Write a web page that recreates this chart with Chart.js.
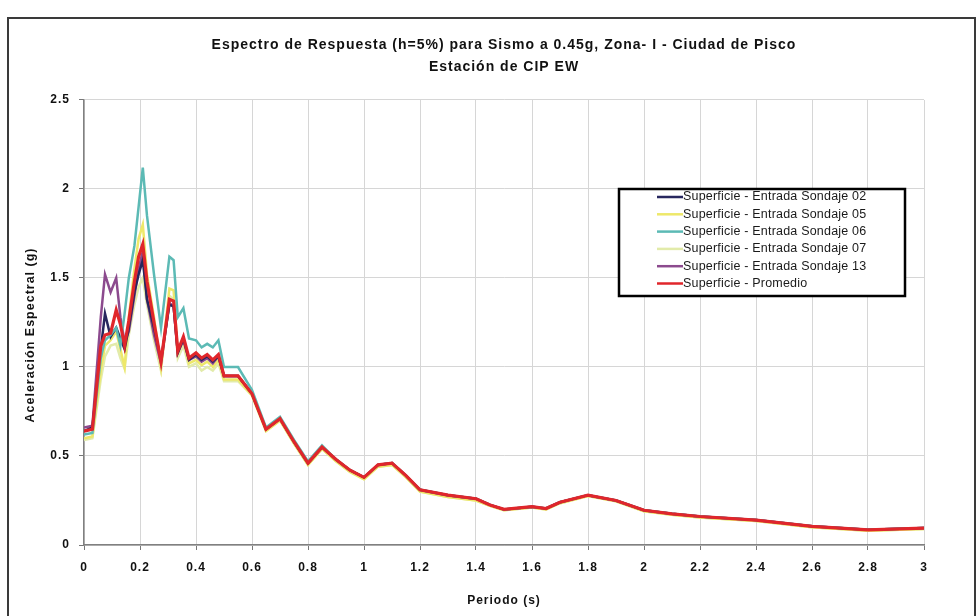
<!DOCTYPE html>
<html>
<head>
<meta charset="utf-8">
<script src="https://cdn.jsdelivr.net/npm/chart.js@4.4.1/dist/chart.umd.min.js"></script>
<style>
  html, body { margin: 0; padding: 0; background: #ffffff; }
  #wrap { position: relative; width: 979px; height: 616px; }
</style>
</head>
<body>
<div id="wrap"><canvas id="c" width="979" height="616"></canvas></div>
<script>
// Periodos (s)
const periods = [0, 0.03, 0.06, 0.075, 0.095, 0.115, 0.13, 0.145, 0.16, 0.18, 0.195, 0.21, 0.225, 0.25, 0.275, 0.305, 0.32, 0.335, 0.355, 0.375, 0.40, 0.42, 0.44, 0.46, 0.48, 0.50, 0.55,
  0.60, 0.65, 0.70, 0.75, 0.80, 0.85, 0.90, 0.95, 1.00, 1.05, 1.10, 1.15, 1.20, 1.30, 1.40, 1.45, 1.50, 1.60, 1.65, 1.70, 1.80, 1.90, 2.00, 2.10, 2.20, 2.40, 2.60, 2.80, 3.00];

// Aceleración espectral (g) por sondaje
const sondaje02 = [0.64, 0.66, 1.10, 1.30, 1.17, 1.22, 1.16, 1.10, 1.22, 1.42, 1.52, 1.60, 1.38, 1.22, 1.04, 1.35, 1.34, 1.08, 1.16, 1.04, 1.07, 1.04, 1.06, 1.03, 1.06, 0.95, 0.95,
  0.85, 0.65, 0.71, 0.58, 0.46, 0.55, 0.48, 0.42, 0.38, 0.45, 0.46, 0.39, 0.31, 0.28, 0.26, 0.225, 0.20, 0.215, 0.205, 0.24, 0.28, 0.25, 0.195, 0.175, 0.16, 0.14, 0.105, 0.085, 0.095];
const sondaje05 = [0.60, 0.61, 0.98, 1.12, 1.15, 1.20, 1.10, 1.00, 1.28, 1.55, 1.72, 1.80, 1.52, 1.28, 1.00, 1.44, 1.43, 1.08, 1.15, 1.02, 1.04, 1.01, 1.03, 1.00, 1.04, 0.93, 0.93,
  0.84, 0.64, 0.70, 0.57, 0.45, 0.54, 0.47, 0.41, 0.37, 0.44, 0.45, 0.38, 0.30, 0.27, 0.25, 0.22, 0.195, 0.21, 0.20, 0.235, 0.275, 0.245, 0.19, 0.17, 0.155, 0.135, 0.10, 0.08, 0.09];
const sondaje06 = [0.62, 0.63, 1.05, 1.15, 1.18, 1.22, 1.12, 1.30, 1.50, 1.68, 1.90, 2.12, 1.85, 1.52, 1.22, 1.62, 1.60, 1.28, 1.33, 1.16, 1.15, 1.11, 1.13, 1.11, 1.15, 1.00, 1.00,
  0.87, 0.66, 0.72, 0.59, 0.47, 0.56, 0.48, 0.42, 0.38, 0.45, 0.46, 0.39, 0.31, 0.28, 0.26, 0.225, 0.20, 0.215, 0.205, 0.24, 0.28, 0.25, 0.195, 0.175, 0.16, 0.14, 0.105, 0.085, 0.095];
const sondaje07 = [0.59, 0.60, 0.93, 1.06, 1.12, 1.13, 1.05, 0.99, 1.18, 1.35, 1.45, 1.50, 1.35, 1.15, 0.98, 1.40, 1.38, 1.05, 1.12, 1.00, 1.02, 0.98, 1.00, 0.98, 1.02, 0.92, 0.92,
  0.84, 0.64, 0.70, 0.57, 0.45, 0.54, 0.47, 0.41, 0.37, 0.44, 0.45, 0.38, 0.30, 0.27, 0.25, 0.22, 0.195, 0.21, 0.20, 0.235, 0.275, 0.245, 0.19, 0.17, 0.155, 0.135, 0.10, 0.08, 0.09];
const sondaje13 = [0.66, 0.67, 1.28, 1.52, 1.42, 1.50, 1.28, 1.14, 1.20, 1.40, 1.55, 1.65, 1.38, 1.18, 1.02, 1.36, 1.34, 1.08, 1.15, 1.04, 1.06, 1.03, 1.05, 1.02, 1.06, 0.95, 0.95,
  0.85, 0.65, 0.71, 0.58, 0.46, 0.55, 0.48, 0.42, 0.38, 0.45, 0.46, 0.39, 0.31, 0.28, 0.26, 0.225, 0.20, 0.215, 0.205, 0.24, 0.28, 0.25, 0.195, 0.175, 0.16, 0.14, 0.105, 0.085, 0.095];
const promedio = [0.64, 0.65, 1.12, 1.18, 1.19, 1.32, 1.24, 1.12, 1.26, 1.48, 1.62, 1.69, 1.48, 1.25, 1.03, 1.38, 1.37, 1.09, 1.17, 1.05, 1.08, 1.05, 1.07, 1.04, 1.07, 0.95, 0.95,
  0.85, 0.65, 0.71, 0.58, 0.46, 0.55, 0.48, 0.42, 0.38, 0.45, 0.46, 0.39, 0.31, 0.28, 0.26, 0.225, 0.20, 0.215, 0.205, 0.24, 0.28, 0.25, 0.195, 0.175, 0.16, 0.14, 0.105, 0.085, 0.095];

const seriesLabels = [
  'Superficie - Entrada Sondaje 02',
  'Superficie - Entrada Sondaje 05',
  'Superficie - Entrada Sondaje 06',
  'Superficie - Entrada Sondaje 07',
  'Superficie - Entrada Sondaje 13',
  'Superficie - Promedio'
];
const seriesValues = [sondaje02, sondaje05, sondaje06, sondaje07, sondaje13, promedio];
const seriesColors = ['#27275e', '#eee86a', '#5cbab5', '#e2ebaa', '#8c4a8e', '#e0262b'];
const seriesWidths = [2.5, 2.5, 2.5, 2.5, 2.5, 3.2];
const seriesOrder = [3, 5, 2, 6, 4, 0];

const xTicks = { min: 0, max: 3, step: 0.2 };
const yTicks = { min: 0, max: 2.5, step: 0.5 };
const yTitle = 'Aceleración Espectral (g)';

const toPoints = vals => vals.map((v, i) => ({ x: periods[i], y: v }));
const plainNumber = v => String(Number(v.toFixed(2)));

const datasets = seriesLabels.map((label, i) => ({
  label,
  data: toPoints(seriesValues[i]),
  borderColor: seriesColors[i],
  backgroundColor: seriesColors[i],
  borderWidth: seriesWidths[i],
  pointRadius: 0,
  tension: 0,
  fill: false,
  order: seriesOrder[i]
}));

const FONT = '"Liberation Sans", Arial, sans-serif';

// Fondo, marco y espaciado de letras para los textos de ejes y título
const framePlugin = {
  id: 'frame',
  beforeDraw(chart) {
    const ctx = chart.ctx;
    ctx.save();
    ctx.fillStyle = '#ffffff';
    ctx.fillRect(0, 0, chart.width, chart.height);
    ctx.strokeStyle = '#3a3a3a';
    ctx.lineWidth = 2;
    ctx.strokeRect(8, 18, 967, 640);
    ctx.restore();
    ctx.letterSpacing = '1px';
  },
  beforeDatasetsDraw(chart) {
    chart.ctx.letterSpacing = '0px';
  }
};

// Título del eje vertical
const yTitlePlugin = {
  id: 'yTitle',
  afterDraw(chart) {
    const ctx = chart.ctx;
    ctx.save();
    ctx.letterSpacing = '1px';
    ctx.translate(31, 335);
    ctx.rotate(-Math.PI / 2);
    ctx.font = 'bold 12.5px ' + FONT;
    ctx.fillStyle = '#111111';
    ctx.textAlign = 'center';
    ctx.textBaseline = 'middle';
    ctx.fillText(yTitle, 0, 0);
    ctx.restore();
    ctx.letterSpacing = '0px';
  }
};

// Leyenda dentro del área de trazado
const boxLegend = {
  id: 'boxLegend',
  afterDraw(chart) {
    const ctx = chart.ctx;
    const x0 = 619, y0 = 189, w = 286, h = 107;
    ctx.save();
    ctx.letterSpacing = '0.2px';
    ctx.fillStyle = '#ffffff';
    ctx.fillRect(x0, y0, w, h);
    ctx.strokeStyle = '#000000';
    ctx.lineWidth = 2.5;
    ctx.strokeRect(x0, y0, w, h);
    ctx.font = '12.5px ' + FONT;
    ctx.textBaseline = 'middle';
    ctx.textAlign = 'left';
    chart.data.datasets.forEach((ds, i) => {
      const y = 197 + i * 17.3;
      ctx.strokeStyle = ds.borderColor;
      ctx.lineWidth = Math.min(ds.borderWidth, 2.5);
      ctx.beginPath();
      ctx.moveTo(657, y);
      ctx.lineTo(683, y);
      ctx.stroke();
      ctx.fillStyle = '#1a1a1a';
      ctx.fillText(ds.label, 683, y);
    });
    ctx.restore();
    ctx.letterSpacing = '0px';
  }
};

const tickFont = { family: FONT, size: 12, weight: 'bold' };

new Chart(document.getElementById('c'), {
  type: 'line',
  data: { datasets },
  options: {
    responsive: false,
    animation: false,
    layout: { padding: { left: 24, right: 55, top: 0, bottom: 0 } },
    plugins: {
      legend: { display: false },
      tooltip: { enabled: false },
      title: {
        display: true,
        fullSize: false,
        text: ['Espectro de Respuesta (h=5%) para Sismo a 0.45g, Zona- I - Ciudad de Pisco', 'Estación de CIP EW'],
        color: '#111111',
        font: { family: FONT, size: 14, weight: 'bold', lineHeight: 1.57 },
        padding: { top: 34, bottom: 22 }
      }
    },
    scales: {
      x: {
        type: 'linear',
        min: xTicks.min,
        max: xTicks.max,
        afterFit(scale) { scale.height = 71; },
        grid: { color: '#d6d6d6', lineWidth: 1, tickLength: 5, tickColor: '#777777' },
        border: { color: '#808080', width: 1.5 },
        ticks: { stepSize: xTicks.step, padding: 10, color: '#111111', font: tickFont, maxRotation: 0, callback: plainNumber },
        title: { display: true, text: 'Periodo (s)', color: '#111111', font: tickFont, padding: { top: 0, bottom: 8 } }
      },
      y: {
        type: 'linear',
        min: yTicks.min,
        max: yTicks.max,
        afterFit(scale) { scale.width = 60; },
        grid: { color: '#d6d6d6', lineWidth: 1, tickLength: 5, tickColor: '#777777' },
        border: { color: '#808080', width: 1.5 },
        ticks: { stepSize: yTicks.step, padding: 9, color: '#111111', font: tickFont, callback: plainNumber },
        title: { display: false }
      }
    }
  },
  plugins: [framePlugin, yTitlePlugin, boxLegend]
});
</script>
</body>
</html>
